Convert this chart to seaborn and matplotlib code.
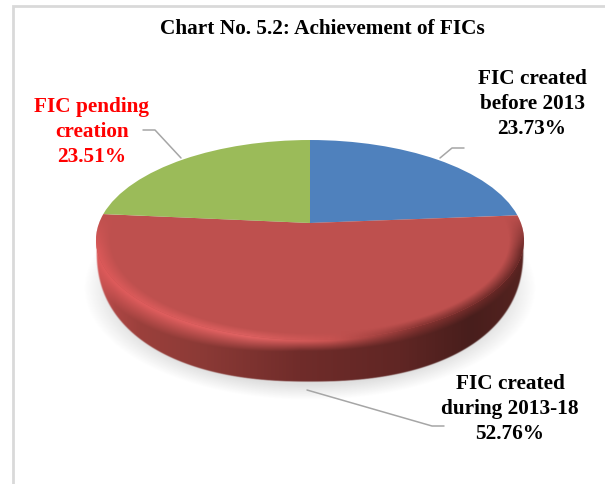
import numpy as np
import matplotlib
matplotlib.use('Agg')
import matplotlib.pyplot as plt
import seaborn as sns
from matplotlib.path import Path
from matplotlib.transforms import Transform

title = 'Chart No. 5.2: Achievement of FICs'
slice_names = ['FIC created\nbefore 2013', 'FIC created\nduring 2013-18', 'FIC pending\ncreation']
slice_values = [23.73, 52.76, 23.51]
slice_colors = ['#4f81bd', '#be504e', '#9bbb59']
label_colors = ['black', 'black', 'red']

# rim shading stops, (pixel x, r, g, b)
wall_stops = [(96, 205, 85, 85), (115, 172, 70, 68), (140, 155, 64, 60), (200, 140, 58, 54), (300, 112, 44, 42),
              (400, 96, 38, 36), (470, 72, 30, 28), (525, 85, 35, 32)]
bevel_stops = [(96, 222, 90, 90), (250, 224, 98, 98), (330, 202, 84, 82),
               (420, 130, 50, 48), (525, 90, 35, 33)]

WIDTH, HEIGHT = 605, 484
CX, APEX_Y, A, B, K = 310, 223, 210.9, 97.1, 0.17
FACE_Y, FACE_A, FACE_B = 240, 214, 100
SIDE_Y, SIDE_B, SIDE_POW = 250, 132, 2.3


class Tilt(Transform):
    # projective tilt of the unit pie onto the page
    input_dims = output_dims = 2

    def transform_non_affine(self, values):
        values = np.asarray(values)
        w = 1 + K * values[:, 1]
        return np.column_stack([CX + A * values[:, 0] / w, APEX_Y - B * values[:, 1] / w])

    def transform_path_non_affine(self, path):
        return Path(self.transform_non_affine(path.vertices), path.codes)


def ramp(x, lo, hi):
    return np.clip((x - lo) / (hi - lo), 0, 1)


def stops_to_rgb(x, stops):
    stops = np.array(stops, dtype=float)
    return np.dstack([np.interp(x, stops[:, 0], stops[:, i]) for i in (1, 2, 3)]) / 255


sns.set_theme(style='white')
fig = plt.figure(figsize=(WIDTH / 100, HEIGHT / 100), dpi=100, facecolor='white')
ax = fig.add_axes([0, 0, 1, 1])

palette = sns.color_palette(slice_colors)
wedges, _ = ax.pie(slice_values, colors=palette, startangle=90, counterclock=False, radius=1)
ax.set_aspect('auto')
tilt = Tilt()
for wedge in wedges:
    wedge.set_transform(tilt + ax.transData)
    wedge.set_zorder(3)
    wedge.set_edgecolor('none')

xx, yy = np.meshgrid(np.arange(0, WIDTH, 0.5) + 0.25, np.arange(0, HEIGHT, 0.5) + 0.25)
extent = (0, WIDTH, HEIGHT, 0)

# soft shadow
d = np.hypot((xx - 310) / 226, (yy - 288) / 112)
shadow = np.zeros(xx.shape + (4,))
shadow[..., :3] = 0.55
shadow[..., 3] = (1 - ramp(d, 0.86, 1.0)) * 0.28
ax.imshow(shadow, extent=extent, aspect='auto', zorder=1, interpolation='bilinear')

# rim below the top face, its outline narrows towards the bottom
u = (xx - CX) / FACE_A
inside = np.abs(u) < 1
s = np.full(xx.shape, 999.0)
s[inside] = yy[inside] - FACE_Y - FACE_B * np.sqrt(1 - u[inside] ** 2)
wall = stops_to_rgb(xx, wall_stops)
bevel = stops_to_rgb(xx, bevel_stops)
band = 10 + 14 * (1 - ramp(xx, 100, 300))
mix = np.clip((s - 1) / band, 0, 1)[..., None]
side = np.abs(u) ** SIDE_POW + (np.clip(yy - SIDE_Y, 0, None) / SIDE_B) ** SIDE_POW
rim = np.zeros(xx.shape + (4,))
rim[..., :3] = bevel * (1 - mix) + wall * mix
rim[..., 3] = (1 - ramp(side, 0.985, 1.0)) * (yy > FACE_Y)
ax.imshow(rim, extent=extent, aspect='auto', zorder=2, interpolation='bilinear')

# bevel ring inside the red slice
d = np.hypot((xx - CX) / FACE_A, (yy - FACE_Y) / FACE_B)
ring = np.zeros(xx.shape + (4,))
ring[..., :3] = bevel
ring[..., 3] = ramp(d, 0.93, 1.0) * ramp(yy, 215, 250) * 0.9
ring_image = ax.imshow(ring, extent=extent, aspect='auto', zorder=4, interpolation='bilinear')
ring_image.set_clip_path(wedges[1])

ax.set_xlim(0, WIDTH)
ax.set_ylim(HEIGHT, 0)
ax.set_axis_off()

# chart frame, open to the right and below
ax.plot([13, 13, WIDTH], [HEIGHT, 6, 6], color='#d9d9d9', lw=2, solid_joinstyle='miter', zorder=1)

# leader lines
leader_color = '#a6a6a6'
ax.plot([143, 155, 181], [130, 130, 158], color=leader_color, lw=1.1, zorder=5)
ax.plot([440, 452, 464], [158, 148, 148], color=leader_color, lw=1.1, zorder=5)
ax.plot([307, 432, 444], [390, 426, 426], color=leader_color, lw=1.1, zorder=5)

font = dict(family='Liberation Serif', weight='bold', size=15.3, ha='center', va='center')
ax.text(322, 29, title, color='black', zorder=6, **font)

label_xy = [(532, 104), (510, 409), (92, 132)]
for name, value, color, (x, y) in zip(slice_names, slice_values, label_colors, label_xy):
    ax.text(x, y, f'{name}\n{value:.2f}%', color=color, linespacing=1.36, zorder=6, **font)

fig.savefig('out.png', dpi=100)
